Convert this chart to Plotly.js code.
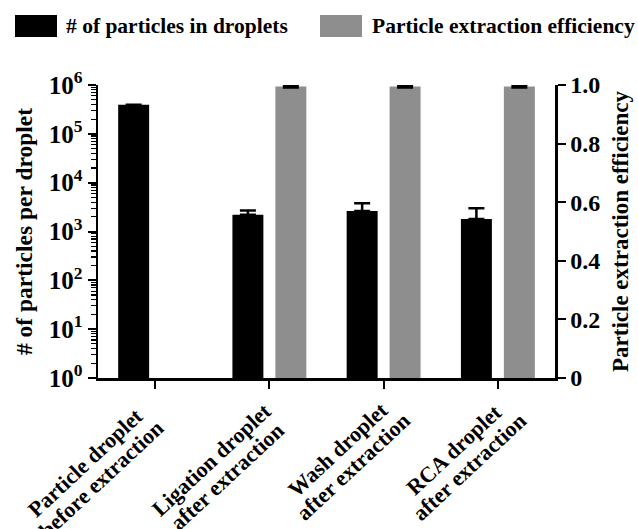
<!DOCTYPE html>
<html>
<head>
<meta charset="utf-8">
<script src="https://cdn.plot.ly/plotly-3.0.1.min.js"></script>
<style>html,body{margin:0;padding:0;background:#fff;}#chart{width:638px;height:529px;}</style>
</head>
<body>
<div id="chart"></div>
<script>
const categories = ["Particle droplet<br>before extraction", "Ligation droplet<br>after extraction", "Wash droplet<br>after extraction", "RCA droplet<br>after extraction"];
const seriesNames = ["# of particles in droplets", "Particle extraction efficiency"];
const particleCounts = [393000, 2190, 2640, 1810];
const particleErrPlus = [0, 490, 1160, 1190];
const extractionEfficiency = [null, 0.995, 0.995, 0.995];
const extractionErr = [0, 0.003, 0.003, 0.003];
const leftTickVals = [1, 10, 100, 1000, 10000, 100000, 1000000];
const leftTickText = ["10<sup>0</sup>", "10<sup>1</sup>", "10<sup>2</sup>", "10<sup>3</sup>", "10<sup>4</sup>", "10<sup>5</sup>", "10<sup>6</sup>"];
const rightTickVals = [0, 0.2, 0.4, 0.6, 0.8, 1.0];
const rightTickText = ["0", "0.2", "0.4", "0.6", "0.8", "1.0"];
const seriesColors = ["#000000", "#8e8e8e"];

// minor tick positions for the log axis (2..9 in each decade)
const minorVals = [];
for (let d = 0; d < 6; d++) for (let m = 2; m <= 9; m++) minorVals.push(m * Math.pow(10, d));

const FONT = "Liberation Serif, Times New Roman, serif";

// plot area in pixels (for placing the hand-drawn legend)
const W = 638, H = 529, ML = 98, MR = 83, MT = 85, MB = 151;
const PW = W - ML - MR, PH = H - MT - MB;
const px = v => (v - ML) / PW;
const py = v => (H - MB - v) / PH;

const traces = [
  {
    type: 'bar', name: seriesNames[0],
    x: [0, 1, 2, 3], y: particleCounts, yaxis: 'y',
    width: 0.271, offset: -0.3235,
    marker: {color: seriesColors[0]},
    error_y: {type: 'data', symmetric: false, array: particleErrPlus, arrayminus: [0,0,0,0], color: '#000', thickness: 2.5, width: 8}
  },
  {
    type: 'bar', name: seriesNames[1],
    x: [0, 1, 2, 3], y: extractionEfficiency, yaxis: 'y2',
    width: 0.271, offset: 0.0525,
    marker: {color: seriesColors[1]},
    error_y: {type: 'data', array: extractionErr, color: '#000', thickness: 3, width: 8}
  }
];

const legendFont = {family: FONT, size: 21.5, weight: 'bold', color: '#000'};
const tickLabelFont = {family: FONT, size: 22, weight: 'bold', color: '#000'};

// category labels: one rotated annotation per text line, tightly spaced
const ANG = -43, LINE = 22, BLOCK_DX = -50, BLOCK_DY = 90;
const labelNudge = [[-12, 3], [0, 0], [12, -10], [14, -10]]; // px, (right, down)
const rad = Math.abs(ANG) * Math.PI / 180;
const labelAnnotations = [];
categories.forEach((cat, i) => {
  const lines = cat.split('<br>');
  lines.forEach((ln, j) => {
    const off = (j - (lines.length - 1) / 2) * LINE;
    labelAnnotations.push({
      xref: 'x', yref: 'paper', x: i, y: 0,
      xanchor: 'center', yanchor: 'middle',
      xshift: BLOCK_DX + labelNudge[i][0] + off * Math.sin(rad),
      yshift: -(BLOCK_DY + labelNudge[i][1] + off * Math.cos(rad)),
      text: ln, textangle: ANG, showarrow: false, font: tickLabelFont
    });
  });
});

const layout = {
  width: W, height: H,
  margin: {l: ML, r: MR, t: MT, b: MB},
  paper_bgcolor: '#fff', plot_bgcolor: '#fff',
  font: {family: FONT, size: 18, color: '#000', weight: 'bold'},
  barmode: 'overlay',
  showlegend: false,
  xaxis: {
    range: [-0.5, 3.5], tickmode: 'array', tickvals: [0, 1, 2, 3], ticktext: categories,
    showticklabels: false, ticks: 'outside', ticklen: 8, tickwidth: 2, tickcolor: '#000',
    showline: true, linewidth: 2.5, linecolor: '#000', showgrid: false, zeroline: false
  },
  yaxis: {
    type: 'log', range: [0, 6], tickmode: 'array', tickvals: leftTickVals, ticktext: leftTickText,
    ticks: 'outside', ticklen: 8, tickwidth: 2, tickcolor: '#000',
    minor: {tickmode: 'array', tickvals: minorVals, ticks: 'outside', ticklen: 5, tickwidth: 1.2, tickcolor: '#000', showgrid: false},
    showline: true, linewidth: 2.5, linecolor: '#000', showgrid: false, zeroline: false,
    tickfont: {family: FONT, size: 25, weight: 'bold'},
    title: {text: '# of particles per droplet', font: {family: FONT, size: 23.5, weight: 'bold'}, standoff: 10}
  },
  yaxis2: {
    overlaying: 'y', side: 'right', range: [0, 1], tickmode: 'array', tickvals: rightTickVals, ticktext: rightTickText,
    ticks: 'outside', ticklen: 8, tickwidth: 2, tickcolor: '#000',
    showline: true, linewidth: 2.5, linecolor: '#000', showgrid: false, zeroline: false,
    tickfont: {family: FONT, size: 24, weight: 'bold'},
    title: {text: 'Particle extraction efficiency', font: {family: FONT, size: 23, weight: 'bold'}, standoff: 13}
  },
  shapes: [
    {type: 'rect', xref: 'paper', yref: 'paper', x0: px(15), x1: px(57), y0: py(37), y1: py(15), fillcolor: seriesColors[0], line: {width: 0}},
    {type: 'rect', xref: 'paper', yref: 'paper', x0: px(320), x1: px(362), y0: py(37), y1: py(15), fillcolor: seriesColors[1], line: {width: 0}}
  ],
  annotations: [
    {xref: 'paper', yref: 'paper', x: px(64), y: py(26), xanchor: 'left', yanchor: 'middle', text: seriesNames[0], showarrow: false, font: legendFont},
    {xref: 'paper', yref: 'paper', x: px(370), y: py(26), xanchor: 'left', yanchor: 'middle', text: seriesNames[1], showarrow: false, font: legendFont}
  ].concat(labelAnnotations)
};

Plotly.newPlot('chart', traces, layout, {displayModeBar: false, staticPlot: true});
</script>
</body>
</html>
